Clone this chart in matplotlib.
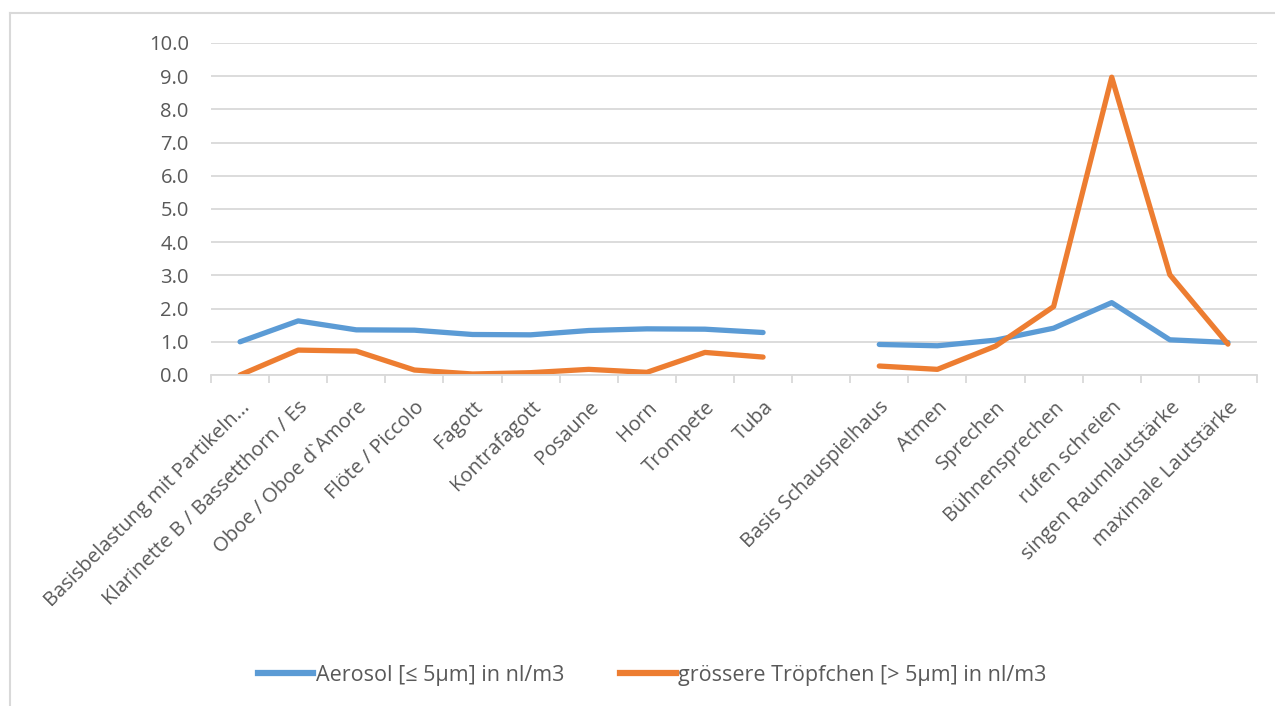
import matplotlib.pyplot as plt
import numpy as np
from matplotlib.lines import Line2D

plt.rcParams['font.family'] = ['Open Sans', 'DejaVu Sans']

# Kategorien (leere Position = Lücke zwischen Instrumenten und Stimme)
kategorien = ['Basisbelastung mit Partikeln...', 'Klarinette B / Bassetthorn / Es',
              'Oboe / Oboe d`Amore', 'Flöte / Piccolo', 'Fagott', 'Kontrafagott',
              'Posaune', 'Horn', 'Trompete', 'Tuba', '',
              'Basis Schauspielhaus', 'Atmen', 'Sprechen', 'Bühnensprechen',
              'rufen schreien', 'singen Raumlautstärke', 'maximale Lautstärke']

aerosol = [1.00, 1.63, 1.36, 1.35, 1.22, 1.21, 1.34, 1.39, 1.38, 1.28, np.nan,
           0.92, 0.88, 1.05, 1.41, 2.18, 1.06, 0.98]
tropfen = [0.00, 0.75, 0.72, 0.15, 0.03, 0.07, 0.17, 0.08, 0.68, 0.54, np.nan,
           0.27, 0.17, 0.87, 2.06, 8.97, 3.02, 0.93]

blau = '#5B9BD5'
orange = '#ED7D31'
grau = '#595959'

fig = plt.figure(figsize=(12.75, 7.06), dpi=100)
ax = fig.add_axes([211/1275, 1 - 375/706, (1257 - 211)/1275, (375 - 43)/706])

x = np.arange(len(kategorien))
ax.plot(x, aerosol, color=blau, lw=3.8, solid_capstyle='round', solid_joinstyle='round')
ax.plot(x, tropfen, color=orange, lw=3.8, solid_capstyle='round', solid_joinstyle='round')

ax.set_xlim(-0.5, len(kategorien) - 0.5)
ax.set_ylim(0, 10)
ax.set_yticks(np.arange(0, 11, 1))
ax.set_yticklabels([f'{v:.1f}' for v in range(11)], fontsize=14.5, color=grau)
ax.yaxis.grid(True, color='#d9d9d9', lw=1.3)
ax.set_axisbelow(True)
ax.tick_params(axis='y', length=0, pad=16)

# Kategorienbeschriftung in der Mitte, Striche an den Grenzen
ax.set_xticks(x)
ax.set_xticklabels(kategorien, rotation=45, ha='right', rotation_mode='anchor',
                   fontsize=14.5, color=grau)
ax.tick_params(axis='x', which='major', length=0, pad=16)
ax.set_xticks(np.arange(-0.5, len(kategorien)), minor=True)
ax.tick_params(axis='x', which='minor', length=6, color='#d9d9d9', width=1.3)

for s in ['top', 'right', 'left']:
    ax.spines[s].set_visible(False)
ax.spines['bottom'].set_color('#d9d9d9')
ax.spines['bottom'].set_linewidth(1.3)

# Rahmen des Diagramms
fig.add_artist(Line2D([10/1275, 10/1275], [0, 1 - 13/706], color='#d9d9d9', lw=1.5))
fig.add_artist(Line2D([10/1275, 1], [1 - 13/706, 1 - 13/706], color='#d9d9d9', lw=1.5))

handles = [Line2D([], [], color=blau, lw=4.5),
           Line2D([], [], color=orange, lw=4.5)]
fig.legend(handles, ['Aerosol [≤ 5µm] in nl/m3', 'grössere Tröpfchen [> 5µm] in nl/m3'],
           loc='center', bbox_to_anchor=(652/1275, 1 - 675/706), ncol=2, frameon=False,
           fontsize=15.5, handlelength=2.6, handletextpad=0.1, columnspacing=2.6,
           labelcolor=grau)

fig.savefig('out.png', dpi=100)
